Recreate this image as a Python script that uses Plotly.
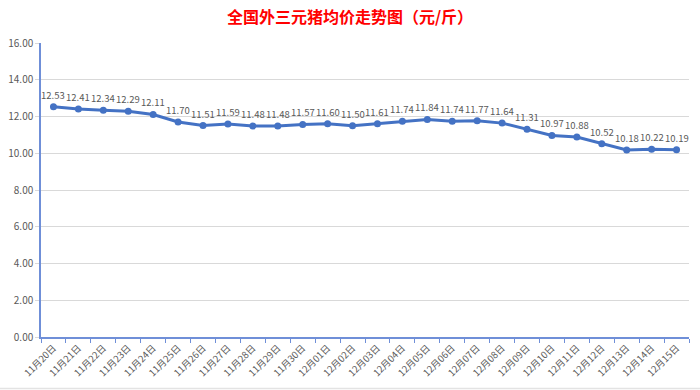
import plotly.graph_objects as go

dates = ["11月20日", "11月21日", "11月22日", "11月23日", "11月24日", "11月25日", "11月26日",
         "11月27日", "11月28日", "11月29日", "11月30日", "12月01日", "12月02日", "12月03日",
         "12月04日", "12月05日", "12月06日", "12月07日", "12月08日", "12月09日", "12月10日",
         "12月11日", "12月12日", "12月13日", "12月14日", "12月15日"]
prices = [12.53, 12.41, 12.34, 12.29, 12.11, 11.70, 11.51, 11.59, 11.48, 11.48, 11.57, 11.60,
          11.50, 11.61, 11.74, 11.84, 11.74, 11.77, 11.64, 11.31, 10.97, 10.88, 10.52, 10.18,
          10.22, 10.19]
y_ticks = [0, 2, 4, 6, 8, 10, 12, 14, 16]
y_tick_text = ["%.2f" % v for v in y_ticks]

fig = go.Figure()
fig.add_trace(go.Scatter(
    x=dates, y=prices, mode="lines+markers",
    line=dict(color="#4472C4", width=3),
    marker=dict(color="#4472C4", size=7),
    cliponaxis=False,
    hoverinfo="skip",
))
for d, v in zip(dates, prices):
    fig.add_annotation(x=d, y=v, text="%.2f" % v, showarrow=False, yshift=12,
                       font=dict(size=9.5, color="#595959", family="Noto Sans CJK SC"))

fig.update_layout(
    width=700, height=390,
    margin=dict(l=41, r=11, t=43, b=53, autoexpand=False),
    paper_bgcolor="white", plot_bgcolor="white",
    showlegend=False,
    title=dict(text="<b>全国外三元猪均价走势图（元/斤）</b>", x=0.5, xanchor="center",
               y=0.955, yanchor="middle",
               font=dict(size=16, color="#FF0000", family="Noto Sans CJK SC")),
    xaxis=dict(
        type="category", range=[-0.5, 25.5], tickangle=-45, automargin=False,
        tickson="boundaries", ticks="outside", ticklen=4, tickcolor="#6F8FD8",
        showline=True, linecolor="#6F8FD8", linewidth=1.5,
        showgrid=False, zeroline=False,
        tickfont=dict(size=9.5, color="#595959", family="Noto Sans CJK SC"),
    ),
    yaxis=dict(
        range=[0, 16], tickvals=y_ticks, ticktext=y_tick_text, automargin=False,
        ticks="outside", ticklen=4, tickcolor="#D9D9D9",
        showline=True, linecolor="#6F8FD8", linewidth=1.5,
        showgrid=True, gridcolor="#D9D9D9", gridwidth=1, zeroline=False,
        tickfont=dict(size=10, color="#595959", family="Noto Sans CJK SC"),
    ),
)
fig.add_shape(type="line", xref="paper", yref="paper", x0=-0.07, x1=1.02, y0=-0.175, y1=-0.175,
              line=dict(color="#E3E3E3", width=1.5))

fig.write_html("out.html", config={"displayModeBar": False},
               post_script="document.body.style.margin='0';document.body.style.overflow='hidden';")
